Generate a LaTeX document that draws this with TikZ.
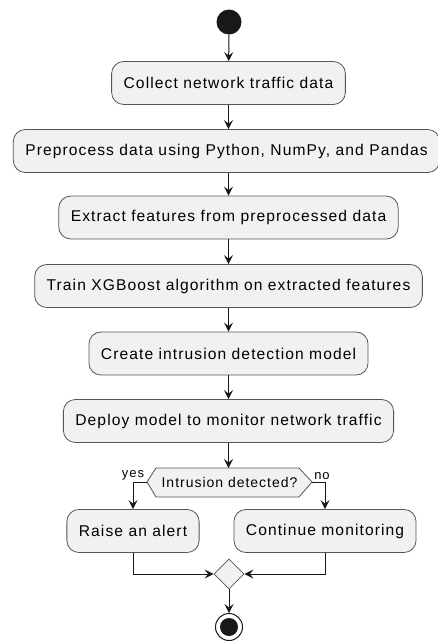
\documentclass[tikz,border=0pt]{standalone}
\usepackage{fontspec}
\setmainfont[LetterSpace=7]{Liberation Sans}
\usetikzlibrary{calc}
\usetikzlibrary{arrows.meta}
\usetikzlibrary{shapes.geometric}

\definecolor{actfill}{HTML}{F1F1F1}
\definecolor{actline}{HTML}{555555}
\definecolor{flowline}{HTML}{181818}

\tikzset{
  act/.style={draw=actline, fill=actfill, line width=.8pt, rounded corners=12pt,
    minimum height=43pt, inner xsep=12pt, font=\fontsize{15.6}{18}\selectfont},
  flow/.style={draw=flowline, line width=1pt, -{Stealth[length=9pt,width=9pt,inset=3.5pt]}},
  lbl/.style={font=\fontsize{13}{15}\selectfont, inner sep=1pt}
}

\begin{document}
\begin{tikzpicture}[x=1pt,y=-1pt]
\useasboundingbox (0,0) rectangle (438,641);
% start and activities
\node[circle, fill=flowline, minimum size=25pt, inner sep=0pt] (start) at (229,22) {};
\node[act] (collect) at (228.5,83) {Collect network traffic data};
\node[act] (prep) at (226.5,151) {Preprocess data using Python, NumPy, and Pandas};
\node[act] (extract) at (228.5,217.5) {Extract features from preprocessed data};
\node[act] (train) at (228.5,286) {Train XGBoost algorithm on extracted features};
\node[act] (model) at (228.5,353.5) {Create intrusion detection model};
\node[act] (deploy) at (228.5,421) {Deploy model to monitor network traffic};
% decision
\coordinate (hl) at (147,482);
\coordinate (hr) at (312,482);
\coordinate (ht) at (228.5,468);
\draw[draw=actline, fill=actfill, line width=.8pt] (hl) -- (156,468) -- (299,468) -- (hr)
  -- (299,497) -- (156,497) -- cycle;
\node[font=\fontsize{14}{16}\selectfont] (ask) at (229.5,482.5) {Intrusion detected?};
\node[lbl, anchor=south] (yes) at (133,481) {yes};
\node[lbl, anchor=south] (no) at (322,481) {no};
\node[act] (alert) at (133,531) {Raise an alert};
\node[act] (cont) at (325,531) {Continue monitoring};
% merge and end
\node[diamond, draw=actline, fill=actfill, line width=.8pt, minimum size=30pt, inner sep=0pt] (merge) at (229,574) {};
\node[circle, draw=flowline, line width=1pt, minimum size=27pt, inner sep=0pt] (stop) at (229,627) {};
\node[circle, fill=flowline, minimum size=18pt, inner sep=0pt] (stopdot) at (stop) {};
% connectors
\draw[flow] (start) -- (collect);
\draw[flow] (collect) -- (prep.north -| collect);
\draw[flow] (prep.south -| collect) -- (extract);
\draw[flow] (extract) -- (train);
\draw[flow] (train) -- (model);
\draw[flow] (model) -- (deploy);
\draw[flow] (deploy) -- (ht);
\draw[flow] (hl) -| (alert);
\draw[flow] (hr) -| (cont);
\draw[flow] (alert) |- (merge);
\draw[flow] (cont) |- (merge);
\draw[flow] (merge) -- (stop);
\end{tikzpicture}
\end{document}
